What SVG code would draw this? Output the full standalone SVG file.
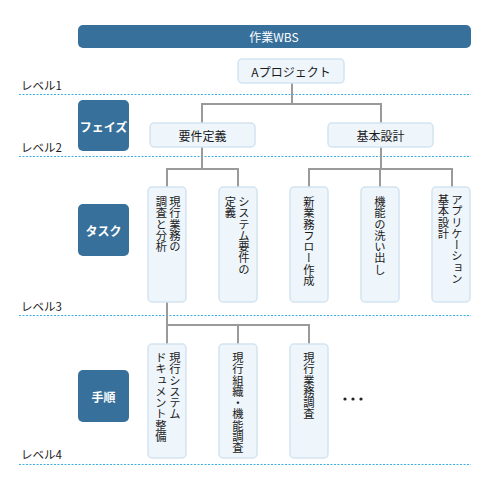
<svg xmlns="http://www.w3.org/2000/svg" width="490" height="490" viewBox="0 0 490 490">
<style>
text{font-family:"Noto Sans CJK JP","Noto Sans",sans-serif;fill:#1a1a1a}
.dark{fill:#37709a}
.wt{fill:#fff;font-size:12px;text-anchor:middle;dominant-baseline:central;font-weight:bold}
.hd{fill:#fff;font-size:12px;text-anchor:middle;dominant-baseline:central}
.box{fill:#eef5fb;stroke:#d3e4f1;stroke-width:1.5}
.ht{font-size:12px;text-anchor:middle;dominant-baseline:central}
.vt{font-size:11.3px;writing-mode:vertical-rl}
.lvl{font-size:11.5px;dominant-baseline:central}
.dot{stroke:#3cb0e0;stroke-width:1;stroke-dasharray:2 1.5;fill:none}
.con{stroke:#9a9a9a;stroke-width:2;fill:none}
</style>
<rect width="490" height="490" fill="#fff"/>
<g id="header"><rect class="dark" x="78" y="25" width="393" height="23" rx="5"/><text class="hd" x="274" y="36.5">作業WBS</text></g>
<g id="levels">
<line class="dot" x1="19" y1="94.5" x2="471" y2="94.5"/>
<line class="dot" x1="19" y1="156.5" x2="471" y2="156.5"/>
<line class="dot" x1="19" y1="315.5" x2="471" y2="315.5"/>
<line class="dot" x1="19" y1="464.5" x2="471" y2="464.5"/>
<text class="lvl" x="21" y="85">レベル1</text>
<text class="lvl" x="21" y="147">レベル2</text>
<text class="lvl" x="21" y="306">レベル3</text>
<text class="lvl" x="21" y="454">レベル4</text>
</g>
<g id="connectors">
<path class="con" d="M292 83V104M202 123V104H381V123"/>
<path class="con" d="M202 147V169M167 187V169H238V187"/>
<path class="con" d="M381 147V169M309 187V169H452V187M380 169V187"/>
<path class="con" d="M167 302V325M167 344V325H309V344M238 325V344"/>
</g>
<g id="phase"><rect class="dark" x="78" y="100" width="51" height="51" rx="5"/><text class="wt" x="103.5" y="126">フェイズ</text></g>
<g id="task"><rect class="dark" x="78" y="204" width="51" height="52" rx="5"/><text class="wt" x="103.5" y="230">タスク</text></g>
<g id="procedure"><rect class="dark" x="78" y="370" width="51" height="52" rx="5"/><text class="wt" x="103.5" y="396">手順</text></g>
<g id="project"><rect class="box" x="238" y="59" width="106" height="24" rx="4"/><text class="ht" x="291" y="71">Aプロジェクト</text></g>
<g id="req"><rect class="box" x="150" y="123" width="105" height="24" rx="4"/><text class="ht" x="202.5" y="135">要件定義</text></g>
<g id="design"><rect class="box" x="328" y="123" width="105" height="24" rx="4"/><text class="ht" x="380.5" y="135">基本設計</text></g>
<g id="t1"><rect class="box" x="148" y="187" width="38" height="115" rx="4"/><text class="vt" x="175" y="196">現行業務の</text><text class="vt" x="161.5" y="196">調査と分析</text></g>
<g id="t2"><rect class="box" x="219" y="187" width="38" height="115" rx="4"/><text class="vt" x="244" y="196">システム要件の</text><text class="vt" x="230.5" y="196">定義</text></g>
<g id="t3"><rect class="box" x="290" y="187" width="38" height="115" rx="4"/><text class="vt" x="309" y="196">新業務フロー作成</text></g>
<g id="t4"><rect class="box" x="361" y="187" width="38" height="115" rx="4"/><text class="vt" x="380" y="196">機能の洗い出し</text></g>
<g id="t5"><rect class="box" x="432" y="187" width="38" height="115" rx="4"/><text class="vt" x="457" y="194">アプリケーション</text><text class="vt" x="443.5" y="194">基本設計</text></g>
<g id="p1"><rect class="box" x="148" y="344" width="38" height="114" rx="4"/><text class="vt" x="175" y="352">現行システム</text><text class="vt" x="161" y="352">ドキュメント整備</text></g>
<g id="p2"><rect class="box" x="219" y="344" width="38" height="114" rx="4"/><text class="vt" x="238" y="352">現行組織・機能調査</text></g>
<g id="p3"><rect class="box" x="290" y="344" width="38" height="114" rx="4"/><text class="vt" x="309" y="352">現行業務調査</text></g>
<g id="more"><circle cx="345" cy="399" r="1.6" fill="#222"/><circle cx="353" cy="399" r="1.6" fill="#222"/><circle cx="361" cy="399" r="1.6" fill="#222"/></g>
</svg>
